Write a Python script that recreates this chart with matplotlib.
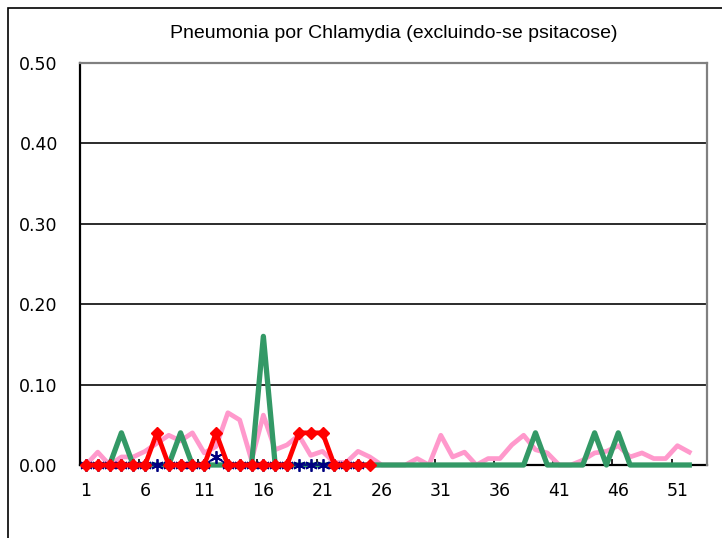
import matplotlib
matplotlib.use("Agg")
import matplotlib.pyplot as plt
from matplotlib.patches import Rectangle
import numpy as np

title = "Pneumonia por Chlamydia (excluindo-se psitacose)"
weeks_all = list(range(1, 53))

pink = [0.0, 0.016, 0.0, 0.01, 0.01, 0.017, 0.027, 0.037, 0.03, 0.04,
        0.015, 0.023, 0.065, 0.056, 0.006, 0.062, 0.019, 0.025, 0.037, 0.012,
        0.017, 0.003, 0.003, 0.017, 0.01, 0.0, 0.0, 0.0, 0.008, 0.0,
        0.037, 0.01, 0.016, 0.0, 0.008, 0.008, 0.025, 0.037, 0.019, 0.015,
        0.0, 0.0, 0.006, 0.015, 0.017, 0.024, 0.01, 0.015, 0.008, 0.008,
        0.024, 0.016]

green = [0.0, 0.0, 0.0, 0.04, 0.0, 0.0, 0.0, 0.0, 0.04, 0.0,
         0.0, 0.0, 0.0, 0.0, 0.0, 0.16, 0.0, 0.0, 0.0, 0.0,
         0.0, 0.0, 0.0, 0.0, 0.0, 0.0, 0.0, 0.0, 0.0, 0.0,
         0.0, 0.0, 0.0, 0.0, 0.0, 0.0, 0.0, 0.0, 0.04, 0.0,
         0.0, 0.0, 0.0, 0.04, 0.0, 0.04, 0.0, 0.0, 0.0, 0.0,
         0.0, 0.0]

weeks_blue = list(range(1, 25))
blue = [0.0] * 11 + [0.01] + [0.0] * 12

weeks_red = list(range(1, 26))
red = [0.0, 0.0, 0.0, 0.0, 0.0, 0.0, 0.04, 0.0, 0.0, 0.0,
       0.0, 0.04, 0.0, 0.0, 0.0, 0.0, 0.0, 0.0, 0.04, 0.04,
       0.04, 0.0, 0.0, 0.0, 0.0]

yticks = [0.0, 0.1, 0.2, 0.3, 0.4, 0.5]
xlabels = list(range(1, 53, 5))

fig = plt.figure(figsize=(7.22, 5.38), dpi=100)
ax = fig.add_axes([80/722, 1-465/538, 627/722, 402/538])

ax.plot(weeks_all, pink, color="#FF99CC", lw=3.4, zorder=3, clip_on=False)
ax.plot(weeks_all, green, color="#339966", lw=3.8, zorder=4, clip_on=False)
ax.plot(weeks_blue, blue, color="#000080", lw=1.2, marker=(6, 2, 0), ms=9,
        mew=1.3, zorder=5, clip_on=False)
ax.plot(weeks_red, red, color="#FF0000", lw=3.4, marker="D", ms=6.5,
        mec="#FF0000", mfc="#FF0000", zorder=6, clip_on=False)

ax.set_xlim(0.5, 53.5)
ax.set_ylim(0, 0.5)
ax.set_yticks(yticks)
ax.set_yticklabels([f"{v:.2f}" for v in yticks], fontsize=12.5)
ax.set_xticks(xlabels)
ax.set_xticklabels([str(v) for v in xlabels], fontsize=12.5)
ax.tick_params(axis="both", length=0)
ax.tick_params(axis="x", pad=12)
ax.tick_params(axis="y", pad=16)
ax.set_xticks(np.arange(5.5, 53, 5), minor=True)
ax.tick_params(axis="x", which="minor", direction="in", length=4, width=1.2, color="black")

for v in yticks[1:-1]:
    ax.axhline(v, color="#1a1a1a", lw=1.3, zorder=1)

for s in ["left", "bottom"]:
    ax.spines[s].set_color("black")
    ax.spines[s].set_linewidth(1.6)
    ax.spines[s].set_zorder(2)
for s in ["top", "right"]:
    ax.spines[s].set_color("#808080")
    ax.spines[s].set_linewidth(1.6)

fig.text((80+707)/2/722, 1-33/538, title, ha="center", va="center",
         fontsize=14, family=["Liberation Sans Narrow", "Liberation Sans", "DejaVu Sans"])

fig.patches.append(Rectangle((8/722, -0.1), 1.2, 1-8/538+0.1, transform=fig.transFigure,
                             fill=False, edgecolor="black", lw=1.2, clip_on=False))

fig.savefig("out.png", dpi=100)
